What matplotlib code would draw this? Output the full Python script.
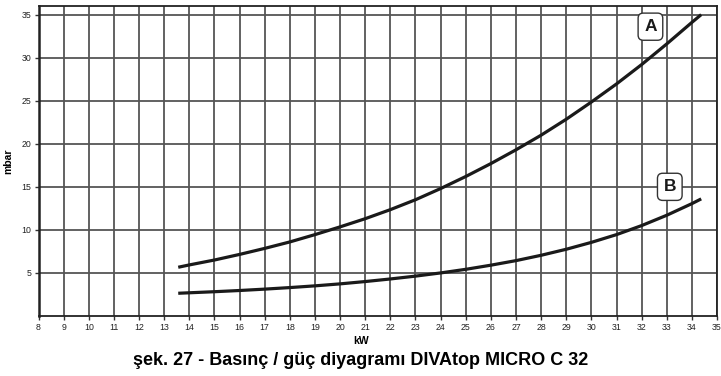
import matplotlib.pyplot as plt

# curve A (upper) - kW vs mbar
kw_a = [13.56, 14.0, 15.0, 16.0, 17.0, 18.0, 19.0, 20.0, 21.0, 22.0, 23.0, 24.0, 25.0, 26.0, 27.0, 28.0, 29.0, 30.0, 31.0, 32.0, 33.0, 34.0, 34.37]
mbar_a = [5.66, 5.93, 6.5, 7.15, 7.85, 8.6, 9.45, 10.35, 11.3, 12.35, 13.5, 14.8, 16.2, 17.7, 19.3, 21.0, 22.85, 24.85, 26.95, 29.2, 31.6, 34.1, 35.0]

# curve B (lower)
kw_b = [13.56, 15.0, 16.0, 17.0, 18.0, 19.0, 20.0, 21.0, 22.0, 23.0, 24.0, 25.0, 26.0, 27.0, 28.0, 29.0, 30.0, 31.0, 32.0, 33.0, 34.0, 34.37]
mbar_b = [2.64, 2.82, 2.96, 3.12, 3.3, 3.5, 3.73, 4.0, 4.3, 4.63, 5.0, 5.42, 5.9, 6.43, 7.05, 7.75, 8.55, 9.45, 10.5, 11.7, 13.05, 13.6]

x_ticks = list(range(8, 36))
y_ticks = [5, 10, 15, 20, 25, 30, 35]

TITLE = "şek. 27 - Basınç / güç diyagramı DIVAtop MICRO C 32"

plt.rcParams['font.family'] = ['Liberation Sans', 'DejaVu Sans']

fig = plt.figure(figsize=(7.21, 3.76), dpi=100)
ax = fig.add_axes([0.0534, 0.1596, 0.9411, 0.8244])

ax.set_xlim(8, 35)
ax.set_ylim(0, 36)
ax.set_xticks(x_ticks)
ax.set_yticks(y_ticks)
ax.tick_params(axis='both', labelsize=6.3, length=3, width=1, color='#333333', pad=2, labelcolor='#222222')

# grid
ax.grid(True, which='major', color='#555555', linewidth=1.3)
ax.set_axisbelow(True)
for s in ax.spines.values():
    s.set_color('#222222')
    s.set_linewidth(1.3)
ax.spines['left'].set_linewidth(1.8)

ax.plot(kw_a, mbar_a, color='#1a1a1a', linewidth=2.3, solid_capstyle='butt')
ax.plot(kw_b, mbar_b, color='#1a1a1a', linewidth=2.3, solid_capstyle='butt')

box = dict(boxstyle='round,pad=0.35,rounding_size=0.3', facecolor='white', edgecolor='#333333', linewidth=1)
ax.text(32.35, 33.6, "A", fontsize=12.5, fontweight='bold', ha='center', va='center', color='#1a1a1a', bbox=box)
ax.text(33.12, 15.0, "B", fontsize=12.5, fontweight='bold', ha='center', va='center', color='#1a1a1a', bbox=box)

ax.set_ylabel("mbar", fontsize=7.5, fontweight='bold', labelpad=6)
fig.text(0.5007, 0.093, "kW", fontsize=7.5, fontweight='bold', ha='center', va='center')
fig.text(0.50, 0.04, TITLE, fontsize=13, fontweight='bold', ha='center', va='center')

plt.savefig("out.png", dpi=100)
